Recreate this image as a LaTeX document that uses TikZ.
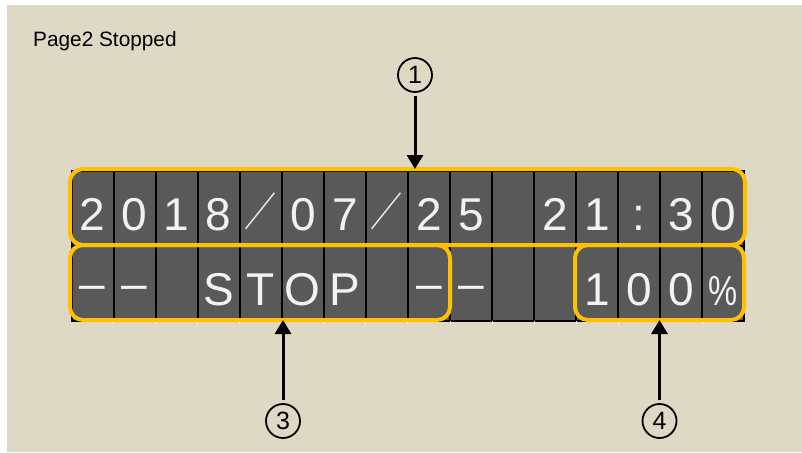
\documentclass[tikz,border=0pt]{standalone}
\usepackage{fontspec}
\setmainfont{Liberation Sans}
\newfontfamily\cjk{Noto Sans CJK JP}
\usetikzlibrary{arrows.meta}
\definecolor{bg}{HTML}{DDD9C4}
\definecolor{cellc}{HTML}{595959}
\definecolor{gold}{HTML}{FFC000}
\definecolor{glyph}{HTML}{F2F2F2}
\newcommand\dsh{\raisebox{6pt}{–}}
\newcommand\pct{{\fontsize{42}{42}\selectfont\scalebox{0.78}[1]{\%}}}
\newcommand\slsh{{\fontsize{40}{40}\selectfont\raisebox{4pt}{\scalebox{0.8}[1]{\cjk ／}}}}
\begin{document}
\begin{tikzpicture}[x=1pt,y=-1pt,
  cell/.style={draw=black, fill=cellc, line width=2pt, minimum width=42.06pt,
    minimum height=75pt, inner sep=0pt, outer sep=0pt, text=glyph,
    font=\fontsize{46}{46}\selectfont, text height=44pt, text depth=0pt, anchor=north west},
  obox/.style={draw=gold, line width=4pt, rounded corners=13pt, inner sep=0pt, outer sep=0pt},
  num/.style={circle, draw=black, line width=1.8pt, minimum size=34pt, inner sep=0pt,
    font=\fontsize{25}{25}\selectfont},
  arr/.style={line width=3pt, -{Triangle[width=16pt,length=14pt]}},
  tick/.style={draw=white, line width=1pt}]
\useasboundingbox (0,0) rectangle (802,452);
\fill[white] (0,0) rectangle (802,452);
\fill[bg] (7,5) rectangle (802,452);
\node[anchor=base west, inner sep=0pt, font=\fontsize{20.8}{21}\selectfont] (title) at (33,47) {Page2 Stopped};
% row 1
\foreach [count=\i from 0] \ch in {2,0,1,8,\slsh,0,7,\slsh,2,5,{},2,1,:,3,0}
  \node[cell] (a\i) at ({71.5+\i*42.06},171) {\ch};
% row 2
\foreach [count=\i from 0] \ch in {\dsh,\dsh,{},S,T,O,P,{},\dsh,\dsh,{},{},1,0,0,\pct}
  \node[cell] (b\i) at ({71.5+\i*42.06},246) {\ch};
\foreach \k in {1,...,15}
  \draw[tick] (b\k.south west) -- ++(0,3);
% highlight boxes
\node[obox, minimum width=675pt, minimum height=76pt] (box1) at (407.5,207) {};
\node[obox, minimum width=380pt, minimum height=75pt] (box3) at (260,282.5) {};
\node[obox, minimum width=169pt, minimum height=75pt] (box4) at (659.5,282.5) {};
% callouts
\node[num] (n1) at (415,75) {1};
\node[num] (n3) at (283,421) {3};
\node[num] (n4) at (659.5,421) {4};
\draw[arr, shorten <=3pt] (n1.south) -- (n1.south |- box1.north);
\draw[arr, shorten <=3pt] (n3.north) -- (n3.north |- box3.south);
\draw[arr, shorten <=3pt] (n4.north) -- (n4.north |- box4.south);
\end{tikzpicture}
\end{document}
